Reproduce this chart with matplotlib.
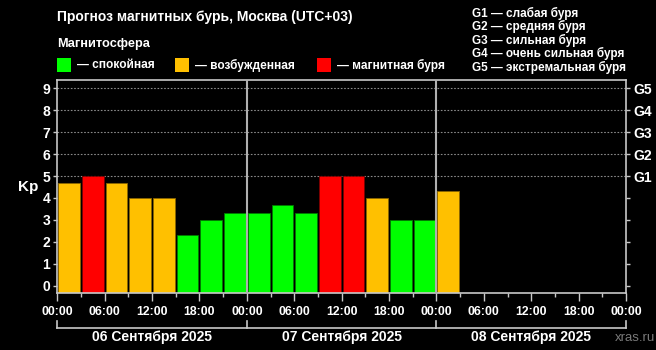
import matplotlib
matplotlib.use("Agg")
import matplotlib.pyplot as plt
import matplotlib.transforms as mtransforms
from matplotlib.patches import Rectangle

plt.rcParams['font.family'] = ['Liberation Sans', 'DejaVu Sans']

# ---- data ----
kp_values = [4.67, 5.0, 4.67, 4.0, 4.0, 2.33, 3.0, 3.33,
             3.33, 3.67, 3.33, 5.0, 5.0, 4.0, 3.0, 3.0,
             4.33]
levels = ['orange', 'red', 'orange', 'orange', 'orange', 'green', 'green', 'green',
          'green', 'green', 'green', 'red', 'red', 'orange', 'green', 'green',
          'orange']
time_labels = ['00:00', '06:00', '12:00', '18:00'] * 3 + ['00:00']
day_labels = ['06 Сентября 2025', '07 Сентября 2025', '08 Сентября 2025']
g_labels = ['G1', 'G2', 'G3', 'G4', 'G5']
g_legend = ['G1 — слабая буря', 'G2 — средняя буря', 'G3 — сильная буря',
            'G4 — очень сильная буря', 'G5 — экстремальная буря']
legend_items = ['— спокойная', '— возбужденная', '— магнитная буря']

W, H = 656, 350
colors = {'green': '#00ff00', 'orange': '#ffc000', 'red': '#ff0000'}
edges = {'green': '#007a00', 'orange': '#8a6500', 'red': '#7a0000'}

fig = plt.figure(figsize=(W / 100, H / 100), dpi=100, facecolor='black')

def fx(px):
    return px / W

def fy(py):
    return 1 - py / H

ax_l, ax_r, ax_t, ax_b = 57.3, 626, 80, 292.5
ax = fig.add_axes([fx(ax_l), fy(ax_b), fx(ax_r - ax_l), (ax_b - ax_t) / H])
ax.set_facecolor('black')
ymin, ymax = -0.31, 9.38
ax.set_xlim(0, 72)
ax.set_ylim(ymin, ymax)

# grid at G levels
for y in range(5, 10):
    ax.axhline(y, color='#8a8a8a', lw=0.8, ls=(0, (1.5, 1.5)), zorder=1)

for d in (24, 48):
    ax.axvline(d, color='#b0b0b0', lw=1.5, zorder=3)

for i, (v, lv) in enumerate(zip(kp_values, levels)):
    ax.bar(1.5 + 3 * i, v - ymin, bottom=ymin, width=2.75,
           color=colors[lv], edgecolor=edges[lv], lw=0.6, zorder=2)

for sp in ax.spines.values():
    sp.set_color('#c8c8c8')
    sp.set_linewidth(1.2)

ax.set_yticks(range(0, 10))
ax.set_yticklabels([str(i) for i in range(10)], color='white',
                   fontsize=10, fontweight='bold')
ax.tick_params(axis='y', colors='#c8c8c8', length=3, width=1, pad=2,
               labelcolor='white')

ax.set_xticks(range(0, 73, 6))
ax.set_xticklabels(time_labels, color='white', fontsize=8.8, fontweight='bold')
ax.set_xticks(range(3, 72, 6), minor=True)
ax.tick_params(axis='x', which='major', colors='#c8c8c8', length=6, width=1,
               pad=4, labelcolor='white')
ax.tick_params(axis='x', which='minor', colors='#c8c8c8', length=3, width=1)

ax2 = ax.twinx()
ax2.set_ylim(ymin, ymax)
ax2.set_yticks(range(0, 10))
ax2.set_yticklabels([''] * 5 + g_labels, color='white', fontsize=10,
                    fontweight='bold')
ax2.tick_params(axis='y', colors='#c8c8c8', length=3, width=1, pad=2,
                labelcolor='white')
for sp in ax2.spines.values():
    sp.set_visible(False)

# Kp label
fig.text(fx(28), fy(187), 'Kp', color='white', fontsize=11, fontweight='bold',
         ha='center', va='center')

# day brackets
trans = mtransforms.blended_transform_factory(ax.transData, fig.transFigure)
ax.plot([0, 72], [fy(327.5), fy(327.5)], color='#c8c8c8', lw=1.2,
        transform=trans, clip_on=False)
for d in (0, 24, 48, 72):
    ax.plot([d, d], [fy(320.5), fy(327.5)], color='#c8c8c8', lw=1.2,
            transform=trans, clip_on=False)
for i, lab in enumerate(day_labels):
    ax.text(12 + 24 * i, fy(337), lab, transform=trans, color='white',
            fontsize=10, fontweight='bold', ha='center', va='center')

fig.text(fx(655), fy(338), 'xras.ru', color='#7a7a7a', fontsize=9.5,
         ha='right', va='center')

# title and legend
fig.text(fx(57), fy(17), 'Прогноз магнитных бурь, Москва (UTC+03)',
         color='white', fontsize=10, fontweight='bold', va='center')
fig.text(fx(57), fy(44), 'Магнитосфера', color='white', fontsize=9.2,
         fontweight='bold', va='center')

sq_x = [57, 175, 317]
for x0, lv, lab in zip(sq_x, ['green', 'orange', 'red'], legend_items):
    fig.patches.append(Rectangle((fx(x0), fy(72)), fx(14), 14 / H,
                                 transform=fig.transFigure,
                                 facecolor=colors[lv], edgecolor='none'))
    fig.text(fx(x0 + 20), fy(65.5), lab, color='white', fontsize=8.6,
             fontweight='bold', va='center')

for i, lab in enumerate(g_legend):
    fig.text(fx(472), fy(13 + 13.6 * i), lab, color='white', fontsize=8.5,
             fontweight='bold', va='center')

fig.savefig('out.png', dpi=100, facecolor='black')
